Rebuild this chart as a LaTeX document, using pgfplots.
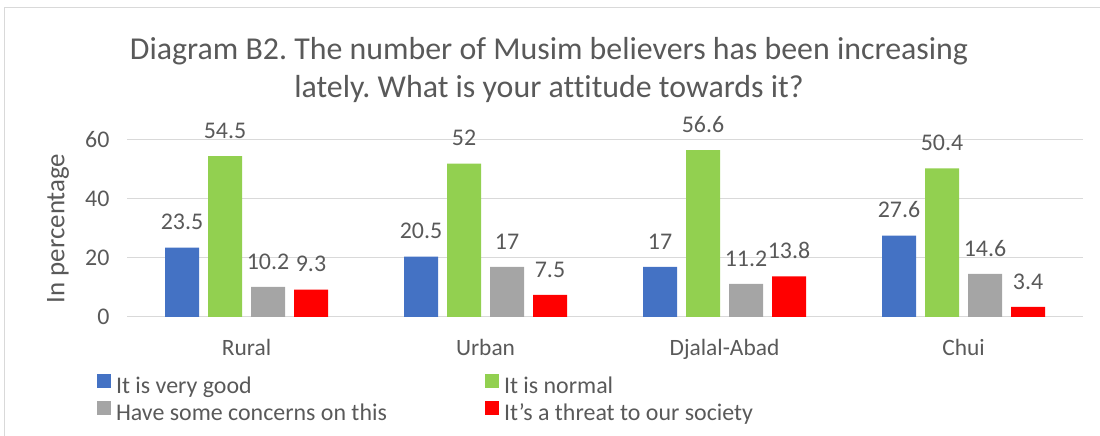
\documentclass[border=0pt]{standalone}
\usepackage{pgfplots}
\pgfplotsset{compat=1.18}
\usepackage{fontspec}
\setmainfont{Carlito}[Ligatures=NoCommon]
\frenchspacing
\definecolor{cblue}{HTML}{4472C4}
\definecolor{cgreen}{HTML}{92D050}
\definecolor{cgray}{HTML}{A5A5A5}
\definecolor{cred}{HTML}{FF0000}
\definecolor{txt}{HTML}{595959}
\definecolor{gridc}{HTML}{D9D9D9}
\begin{document}
\begin{tikzpicture}[x=1bp,y=1bp]
\path[use as bounding box] (0,0) rectangle (1100,436);
\draw[gridc, line width=1bp] (4,0) -- (4,428) -- (1100,428);
\node[txt, font=\fontsize{32}{38}\selectfont, anchor=base, inner sep=0pt] at (549,376) {Diagram B2. The number of Musim believers has been increasing};
\node[txt, font=\fontsize{32}{38}\selectfont, anchor=base, inner sep=0pt] at (549,338) {lately. What is your attitude towards it?};
\begin{axis}[
  at={(127bp,119bp)}, anchor=south west,
  scale only axis, width=956bp, height=177bp,
  ymin=0, ymax=60, ytick={0,20,40,60},
  xmin=-0.5, xmax=3.5, xtick={0,1,2,3},
  xticklabels={Rural,Urban,Djalal-Abad,Chui},
  ybar=9bp, bar width=34bp,
  axis x line=bottom, axis y line=left,
  axis line style={draw=none},
  major tick length=0pt,
  xtick style={draw=none}, ytick style={draw=none},
  ymajorgrids=true, xmajorgrids=false,
  major grid style={draw=gridc, line width=1bp},
  /pgf/number format/assume math mode=true,
  yticklabel style={txt, font=\fontsize{24}{28}\selectfont, xshift=-14bp},
  xticklabel style={txt, font=\fontsize{23.5}{28}\selectfont, yshift=-19bp},
  ylabel={In percentage},
  ylabel style={txt, font=\fontsize{27}{32}\selectfont, at={(axis description cs:-0.0722,0.5)}, anchor=center},
  nodes near coords,
  every node near coord/.append style={txt, font=\fontsize{24}{28}\selectfont, yshift=14bp},
  point meta=explicit symbolic,
  legend columns=2,
  legend style={draw=none, fill=none, at={(-30bp,-57bp)}, anchor=north west,
    inner sep=0pt, outer sep=0pt,
    font=\fontsize{24}{28}\selectfont, text=txt, row sep=2bp,
    nodes={inner sep=0pt, text height=17bp, text depth=6bp},
    /tikz/every odd column/.append style={column sep=5bp},
    /tikz/every even column/.append style={column sep=0bp}},
  legend cell align=left,
  legend image code/.code={\fill[#1] (0bp,0bp) rectangle (14bp,14bp);},
]
\addplot[fill=cblue, draw=none] coordinates {(0,23.5)[23.5] (1,20.5)[20.5] (2,17)[17] (3,27.6)[27.6]};
\addplot[fill=cgreen, draw=none] coordinates {(0,54.5)[54.5] (1,52)[52] (2,56.6)[56.6] (3,50.4)[50.4]};
\addplot[fill=cgray, draw=none] coordinates {(0,10.2)[10.2] (1,17)[17] (2,11.2)[11.2] (3,14.6)[14.6]};
\addplot[fill=cred, draw=none] coordinates {(0,9.3)[9.3] (1,7.5)[7.5] (2,13.8)[13.8] (3,3.4)[3.4]};
\legend{\makebox[369bp][l]{It is very good}, It is normal, Have some concerns on this, It’s a threat to our society}
\end{axis}
\end{tikzpicture}
\end{document}
